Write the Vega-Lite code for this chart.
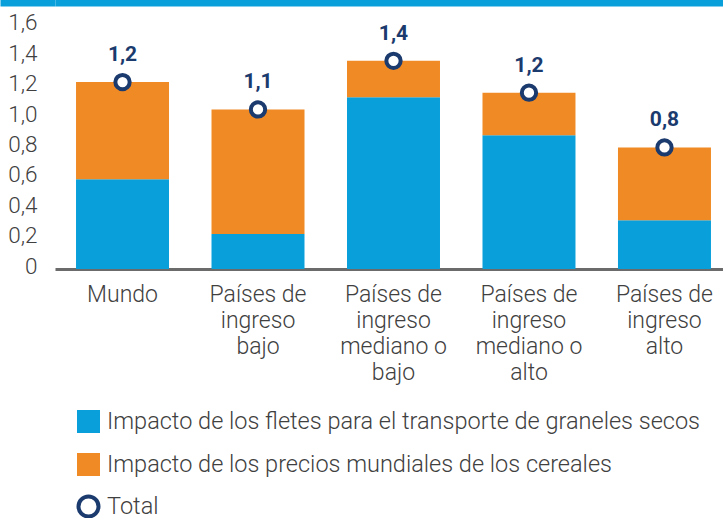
{
  "$schema": "https://vega.github.io/schema/vega-lite/v6.json",
  "width": 668,
  "height": 269,
  "autosize": {"type": "none"},
  "padding": {"left": 55, "top": 0, "right": 0, "bottom": 249},
  "background": "#ffffff",
  "config": {
    "view": {"stroke": null},
    "locale": {"number": {"decimal": ",", "thousands": ".", "grouping": [3], "currency": ["", " €"]}},
    "font": "Roboto"
  },
  "datasets": {
    "barras": [
      {"region": "Mundo", "serie": "Impacto de los fletes para el transporte de graneles secos", "orden": 1, "valor": 0.59},
      {"region": "Mundo", "serie": "Impacto de los precios mundiales de los cereales", "orden": 2, "valor": 0.64},
      {"region": "Países de\ningreso\nbajo", "serie": "Impacto de los fletes para el transporte de graneles secos", "orden": 1, "valor": 0.23},
      {"region": "Países de\ningreso\nbajo", "serie": "Impacto de los precios mundiales de los cereales", "orden": 2, "valor": 0.82},
      {"region": "Países de\ningreso\nmediano o\nbajo", "serie": "Impacto de los fletes para el transporte de graneles secos", "orden": 1, "valor": 1.13},
      {"region": "Países de\ningreso\nmediano o\nbajo", "serie": "Impacto de los precios mundiales de los cereales", "orden": 2, "valor": 0.24},
      {"region": "Países de\ningreso\nmediano o\nalto", "serie": "Impacto de los fletes para el transporte de graneles secos", "orden": 1, "valor": 0.88},
      {"region": "Países de\ningreso\nmediano o\nalto", "serie": "Impacto de los precios mundiales de los cereales", "orden": 2, "valor": 0.28},
      {"region": "Países de\ningreso\nalto", "serie": "Impacto de los fletes para el transporte de graneles secos", "orden": 1, "valor": 0.32},
      {"region": "Países de\ningreso\nalto", "serie": "Impacto de los precios mundiales de los cereales", "orden": 2, "valor": 0.48}
    ],
    "totales": [
      {"region": "Mundo", "total": 1.23},
      {"region": "Países de\ningreso\nbajo", "total": 1.05},
      {"region": "Países de\ningreso\nmediano o\nbajo", "total": 1.37},
      {"region": "Países de\ningreso\nmediano o\nalto", "total": 1.16},
      {"region": "Países de\ningreso\nalto", "total": 0.80}
    ]
  },
  "layer": [
    {
      "data": {"name": "barras"},
      "mark": {"type": "bar"},
      "encoding": {
        "x": {
          "field": "region", "type": "nominal", "sort": null, "title": null,
          "scale": {"paddingInner": 0.3137, "paddingOuter": 0.122, "align": 0.636},
          "axis": {
            "orient": "bottom",
            "labelAngle": 0,
            "domain": true,
            "domainColor": "#6b6b6b",
            "domainWidth": 3,
            "ticks": false,
            "grid": false,
            "labelPadding": 14,
            "labelBaseline": "top",
            "labelLineHeight": 26,
            "labelFont": "Roboto",
            "labelFontWeight": 300,
            "labelFontSize": 23,
            "labelColor": "#404040",
            "labelLimit": 300,
            "labelExpr": "split(datum.label, '\\n')"
          }
        },
        "y": {
          "field": "valor", "type": "quantitative", "title": null, "stack": "zero",
          "scale": {"domain": [0, 1.77], "nice": false, "zero": true},
          "axis": {
            "orient": "left",
            "values": [0, 0.2, 0.4, 0.6, 0.8, 1.0, 1.2, 1.4, 1.6, 1.769],
            "tickCount": 30,
            "domain": false,
            "ticks": true,
            "tickSize": 55,
            "tickWidth": 12,
            "tickColor": {"condition": {"test": "datum.value > 1.7", "value": "#089fdb"}, "value": "transparent"},
            "grid": true,
            "gridWidth": 12,
            "gridColor": {"condition": {"test": "datum.value > 1.7", "value": "#089fdb"}, "value": "transparent"},
            "labelPadding": -37,
            "labelOffset": -3,
            "labelOverlap": false,
            "labelFont": "Roboto",
            "labelFontWeight": 300,
            "labelFontSize": 22.5,
            "labelColor": "#404040",
            "labelExpr": "datum.value > 1.7 ? '' : (datum.value == 0 ? '0' : replace(format(datum.value, '.1f'), '.', ','))"
          }
        },
        "order": {"field": "orden", "type": "quantitative"},
        "color": {
          "field": "serie", "type": "nominal", "title": null,
          "scale": {
            "domain": ["Impacto de los fletes para el transporte de graneles secos", "Impacto de los precios mundiales de los cereales", "Total"],
            "range": ["#089fdb", "#f08a24", "#ffffff"]
          },
          "legend": {
            "orient": "none",
            "legendX": 20,
            "legendY": 408,
            "direction": "vertical",
            "padding": 0,
            "rowPadding": 4,
            "symbolSize": 529,
            "labelOffset": 5,
            "labelFont": "Roboto",
            "labelFontWeight": 300,
            "labelFontSize": 23.5,
            "labelColor": "#404040",
            "labelLimit": 700,
            "encode": {
              "symbols": {
                "update": {
                  "shape": {"signal": "datum.label == 'Total' ? 'circle' : 'square'"},
                  "size": {"signal": "datum.label == 'Total' ? 400 : 529"},
                  "stroke": {"signal": "datum.label == 'Total' ? '#1b3a6d' : 'transparent'"},
                  "strokeWidth": {"value": 4},
                  "opacity": {"value": 1}
                }
              }
            }
          }
        }
      }
    },
    {
      "data": {"name": "totales"},
      "mark": {"type": "point", "shape": "circle", "filled": true, "fill": "#ffffff", "stroke": "#1b3a6d", "strokeWidth": 4, "size": 205, "opacity": 1},
      "encoding": {
        "x": {"field": "region", "type": "nominal", "sort": null, "title": null},
        "y": {"field": "total", "type": "quantitative", "title": null}
      }
    },
    {
      "data": {"name": "totales"},
      "mark": {"type": "text", "dy": -21, "baseline": "alphabetic", "align": "center", "font": "Roboto", "fontWeight": "bold", "fontSize": 21, "fill": "#1b3a6d"},
      "encoding": {
        "x": {"field": "region", "type": "nominal", "sort": null, "title": null},
        "y": {"field": "total", "type": "quantitative", "title": null},
        "text": {"field": "total", "type": "quantitative", "format": ".1f"}
      }
    }
  ]
}
